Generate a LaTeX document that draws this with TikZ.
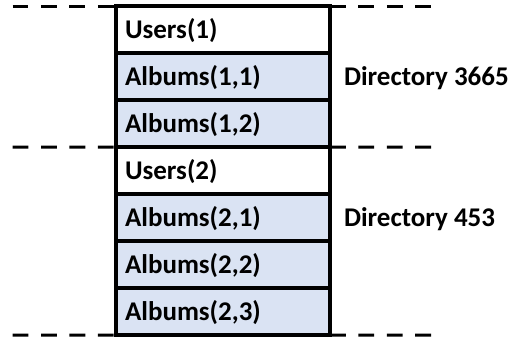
\documentclass[tikz,border=0pt]{standalone}
\usepackage{fontspec}
\setmainfont{Carlito}
\usepackage{tikz}
\usetikzlibrary{positioning}
\definecolor{rowblue}{RGB}{218,227,243}
\tikzset{>=latex}
\tikzstyle{row} = [rectangle, draw=black, line width=3.5bp, anchor=north west, text width=196bp, inner xsep=9bp, inner ysep=0pt, outer sep=0pt, minimum height=47bp, text height=17.6bp, text depth=0bp, align=left, font=\fontsize{27bp}{31bp}\selectfont\bfseries]
\tikzstyle{album} = [row, fill=rowblue]
\tikzstyle{user} = [row, fill=white]
\tikzstyle{dirlabel} = [draw=none, inner sep=0pt, outer sep=0pt, text height=17.6bp, text depth=0bp, font=\fontsize{27bp}{31bp}\selectfont\bfseries]
\tikzstyle{cut} = [-, line width=3bp, dash pattern=on 15.8bp off 12.6bp]

\begin{document}
\begin{tikzpicture}[x=1bp, y=-1bp]
\useasboundingbox (0,0) rectangle (511,337);
%\node [draw=none, font=\small] at (250,-10) {two directories};
\node [user] (U1) at (116, 6) {Users(1)};
\node [album, below=0pt of U1] (A11) {Albums(1,1)};
\node [album, below=0pt of A11] (A12) {Albums(1,2)};
\node [user, below=0pt of A12] (U2) {Users(2)};
\node [album, below=0pt of U2] (A21) {Albums(2,1)};
\node [album, below=0pt of A21] (A22) {Albums(2,2)};
\node [album, below=0pt of A22] (A23) {Albums(2,3)};
\node [dirlabel, anchor=west, right=14bp of A11] (D1) {Directory 3665};
\node [dirlabel, anchor=west, right=14bp of A21] (D2) {Directory 453};
\coordinate (TL) at (12.67, 6);
\coordinate (TR) at (431.7, 6);
\coordinate (ML) at (12.67, 147);
\coordinate (MR) at (431.7, 147);
\coordinate (BL) at (12.67, 335);
\coordinate (BR) at (431.7, 335);
\draw [cut] (TL) -- (U1.north west);
\draw [cut] (U1.north east) -- (TR);
\draw [cut] (ML) -- (U2.north west);
\draw [cut] (U2.north east) -- (MR);
\draw [cut] (BL) -- (A23.south west);
\draw [cut] (A23.south east) -- (BR);
\end{tikzpicture}
\end{document}
